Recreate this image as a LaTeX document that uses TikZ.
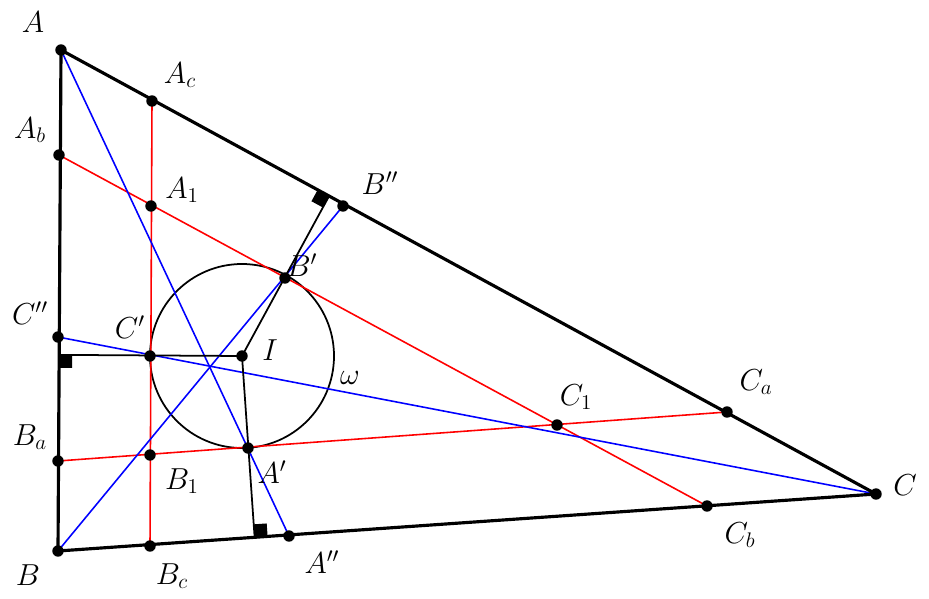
\documentclass[tikz,border=0pt]{standalone}
\usetikzlibrary{calc}
\tikzset{
  dot/.style={circle,fill=black,inner sep=0pt,minimum size=6.5pt},
  lab/.style={font=\LARGE},
  tri/.style={line width=1.8pt},
  redl/.style={red,line width=0.9pt},
  bluel/.style={blue,line width=0.9pt},
  perp/.style={line width=1pt}
}
\newcommand{\perpmark}[3]{%
  \coordinate (p1) at ($(#1)!0.26cm!(#2)$);
  \coordinate (p3) at ($(#1)!0.26cm!(#3)$);
  \fill (#1) -- (p1) -- ($(p1)+(p3)-(#1)$) -- (p3) -- cycle;}
\begin{document}
\begin{tikzpicture}[x=0.02cm,y=-0.02cm]
  \useasboundingbox (0,0) rectangle (929,598);
  % points
  \coordinate (A) at (61,50);
  \coordinate (B) at (58,551);
  \coordinate (C) at (876,494);
  \coordinate (I) at (242,356);
  \coordinate (Ac) at (152,101);
  \coordinate (Ab) at (59,155);
  \coordinate (A1) at (151,206);
  \coordinate (Bpp) at (343,206);
  \coordinate (Bp) at (285,278);
  \coordinate (Cpp) at (58,337);
  \coordinate (Cp) at (150,356);
  \coordinate (C1) at (557,425);
  \coordinate (Ca) at (727,412);
  \coordinate (Ba) at (58,461);
  \coordinate (B1) at (150,455);
  \coordinate (Ap) at (248,448);
  \coordinate (Cb) at (707,506);
  \coordinate (App) at (289,536);
  \coordinate (Bc) at (150,546);
  % feet of the perpendiculars from I
  \coordinate (Fb) at ($(A)!(I)!(C)$);
  \coordinate (Fc) at ($(A)!(I)!(B)$);
  \coordinate (Fa) at ($(B)!(I)!(C)$);
  % incircle
  \draw[line width=1pt] (I) circle (92);
  % red lines
  \draw[redl] (Ac) -- (Bc);
  \draw[redl] (Ab) -- (Cb);
  \draw[redl] (Ba) -- (Ca);
  % blue lines
  \draw[bluel] (A) -- (App);
  \draw[bluel] (B) -- (Bpp);
  \draw[bluel] (C) -- (Cpp);
  % perpendiculars
  \draw[perp] (I) -- (Fb);
  \draw[perp] (I) -- (Fc);
  \draw[perp] (I) -- (Fa);
  \perpmark{Fb}{I}{A}
  \perpmark{Fc}{I}{B}
  \perpmark{Fa}{I}{C}
  % triangle
  \draw[tri] (A) -- (B) -- (C) -- cycle;
  % dots
  \foreach \p in {A,B,C,I,Ac,Ab,A1,Bpp,Bp,Cpp,Cp,C1,Ca,Ba,B1,Ap,Cb,App,Bc}
    \node[dot] at (\p) {};
  % labels
  \node[lab] at (33,22) {$A$};
  \node[lab] at (28,575) {$B$};
  \node[lab] at (905,485) {$C$};
  \node[lab] at (270,350) {$I$};
  \node[lab] at (350,378) {$\omega$};
  \node[lab] at (180,75) {$A_c$};
  \node[lab] at (30,130) {$A_b$};
  \node[lab] at (182,190) {$A_1$};
  \node[lab] at (380,183) {$B''$};
  \node[lab] at (302,265) {$B'$};
  \node[lab] at (30,313) {$C''$};
  \node[lab] at (130,327) {$C'$};
  \node[lab] at (576,397) {$C_1$};
  \node[lab] at (756,382) {$C_a$};
  \node[lab] at (30,437) {$B_a$};
  \node[lab] at (182,481) {$B_1$};
  \node[lab] at (272,472) {$A'$};
  \node[lab] at (740,535) {$C_b$};
  \node[lab] at (322,562) {$A''$};
  \node[lab] at (172,576) {$B_c$};
\end{tikzpicture}
\end{document}
